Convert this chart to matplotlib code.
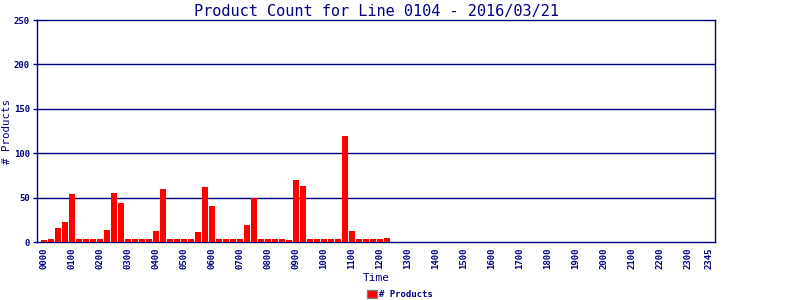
import numpy as np
import matplotlib
matplotlib.use("Agg")
import matplotlib.pyplot as plt
from matplotlib.patches import Patch

navy = "#000080"

# product counts per 15 minute slot (0000 .. 2345)
counts = [2, 3, 16, 23, 54, 3, 3, 3, 3, 14, 55, 44, 3, 3, 3, 3,
          12, 60, 3, 3, 3, 3, 11, 62, 40, 3, 3, 3, 3, 19, 50, 3,
          3, 3, 3, 2, 70, 63, 3, 3, 3, 3, 3, 119, 12, 3, 3, 3,
          3, 5]
counts = counts + [0] * (96 - len(counts))

slot_labels = ["{:02d}{:02d}".format(i // 4, (i % 4) * 15) for i in range(96)]
tick_slots = list(range(0, 96, 4)) + [95]
tick_labels = [slot_labels[i] for i in tick_slots]
y_ticks = [0, 50, 100, 150, 200, 250]

fig = plt.figure(figsize=(8, 3), dpi=100)
ax = fig.add_axes([37 / 800, 58 / 300, 678 / 800, 222 / 300])

x = np.arange(96)
ax.bar(x, counts, width=0.86, color="#ff0000", zorder=3, edgecolor="none")

ax.set_xlim(-1, 95.85)
ax.set_ylim(0, 250)
ax.set_yticks(y_ticks)
ax.set_yticklabels([str(v) for v in y_ticks], fontsize=6.5, color=navy,
                   family="DejaVu Sans Mono", fontweight="bold")
ax.set_xticks(tick_slots)
ax.set_xticklabels(tick_labels, rotation=90, fontsize=6.5, color=navy,
                   family="DejaVu Sans Mono", fontweight="bold")
ax.tick_params(axis="both", colors=navy, length=3, width=1, pad=2)
ax.tick_params(axis="x", length=0, pad=4)

for v in y_ticks[1:-1]:
    ax.axhline(v, color=navy, lw=1, zorder=1)
for s in ax.spines.values():
    s.set_color(navy)
    s.set_linewidth(1)

ax.set_xlabel("Time", fontsize=8, color=navy, family="DejaVu Sans Mono", labelpad=3)
ax.set_ylabel("# Products", fontsize=7.8, color=navy, family="DejaVu Sans Mono",
              va="center")
ax.yaxis.set_label_coords(-0.044, 0.5)
ax.set_title("Product Count for Line 0104 - 2016/03/21", fontsize=11, color=navy,
             family="DejaVu Sans Mono", fontweight="light", pad=3)

handle = Patch(facecolor="#ff0000", edgecolor="gray", linewidth=1)
leg = fig.legend([handle], ["# Products"], loc="center", bbox_to_anchor=(0.5, 0.018),
                 frameon=False, handlelength=1.1, handleheight=0.9, handletextpad=0.3,
                 prop={"family": "DejaVu Sans Mono", "weight": "bold", "size": 6.5})
for t in leg.get_texts():
    t.set_color(navy)

fig.savefig("out.png", dpi=100)
